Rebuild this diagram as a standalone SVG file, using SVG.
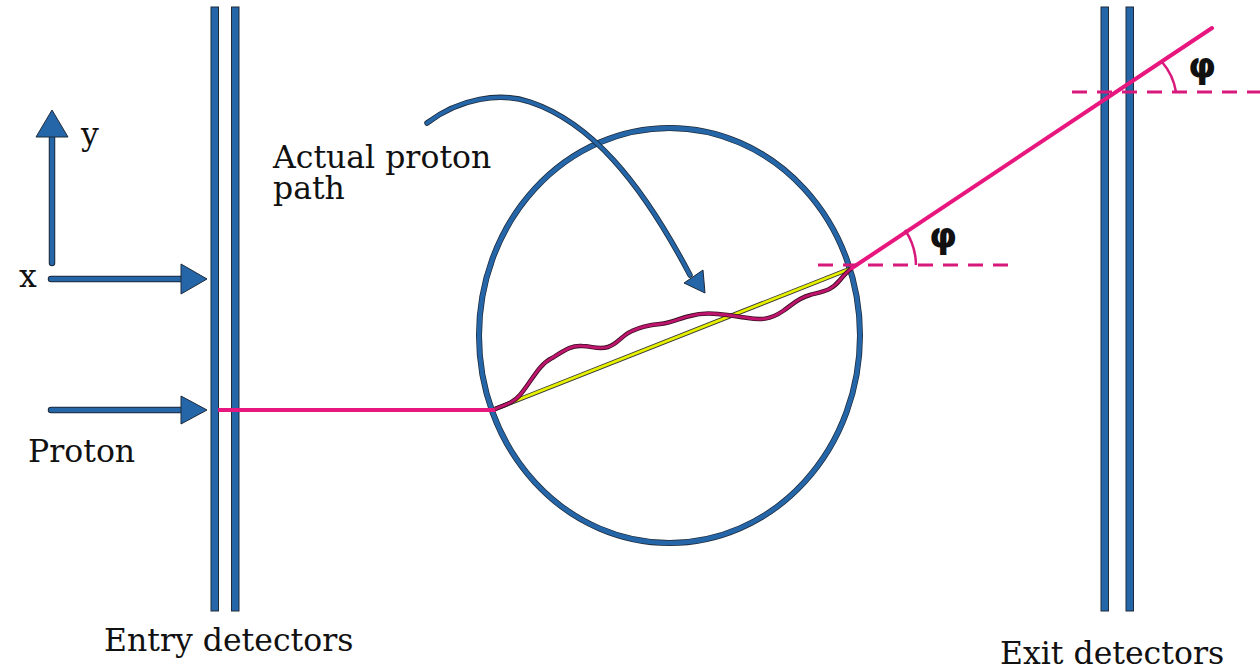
<svg xmlns="http://www.w3.org/2000/svg" width="1260" height="669" viewBox="0 0 1260 669">
<style>
.det{fill:#2566a8;stroke:#1e2a3a;stroke-width:1}
.bluearrow{fill:#2566a8;stroke:#1e2a3a;stroke-width:1}
.pink{fill:none;stroke:#e8177f;stroke-width:4}
.dash{fill:none;stroke:#d8197c;stroke-width:3;stroke-dasharray:15 10}
.lbl{font-family:"DejaVu Serif","Liberation Serif",serif;font-size:31.5px;fill:#111}
.phi{font-family:"DejaVu Sans","Liberation Sans",sans-serif;font-size:36px;font-weight:bold;fill:#111}
</style>
<rect width="1260" height="669" fill="#fff"/>
<g id="entry-detectors">
<rect class="det" x="211" y="7" width="7.5" height="604"/>
<rect class="det" x="231.5" y="7" width="7.5" height="604"/>
</g>
<g id="exit-detectors">
<rect class="det" x="1101" y="7" width="7.5" height="604"/>
<rect class="det" x="1126" y="7" width="7.5" height="604"/>
</g>
<g id="target">
<ellipse cx="669.5" cy="335.5" rx="190.5" ry="207.5" fill="none" stroke="#1e2a3a" stroke-width="6"/>
<ellipse cx="669.5" cy="335.5" rx="190.5" ry="207.5" fill="none" stroke="#2566a8" stroke-width="4.5"/>
</g>
<g id="connectors">
<line class="pink" x1="218" y1="410" x2="496" y2="410"/>
<line x1="495" y1="409" x2="852" y2="268" stroke="#333" stroke-width="4.5"/>
<line x1="495" y1="409" x2="852" y2="268" stroke="#e5f000" stroke-width="2.8"/>
<path d="M495,409 C508,404 514,402 520,395 C532,381 538,365 552,358 C565,350 572,345 582,346 C592,346 598,350 608,347 C618,344 622,335 632,331 C642,326 650,325 660,324 C672,323 680,318 690,316 C700,313 708,313 718,314 C730,315 740,317 748,318 C760,320 770,320 783,311 C792,305 798,298 810,295 C825,291 832,290 840,280 C845,274 848,271 852,268" fill="none" stroke="#3a1020" stroke-width="4.5"/>
<path d="M495,409 C508,404 514,402 520,395 C532,381 538,365 552,358 C565,350 572,345 582,346 C592,346 598,350 608,347 C618,344 622,335 632,331 C642,326 650,325 660,324 C672,323 680,318 690,316 C700,313 708,313 718,314 C730,315 740,317 748,318 C760,320 770,320 783,311 C792,305 798,298 810,295 C825,291 832,290 840,280 C845,274 848,271 852,268" fill="none" stroke="#c0156e" stroke-width="2.8"/>
<line class="pink" x1="852" y1="268" x2="1212" y2="28" stroke-linecap="round"/>
<line class="dash" x1="818" y1="265" x2="1012" y2="265"/>
<line class="dash" x1="1072" y1="92" x2="1260" y2="92"/>
<path d="M905,230 A64,64 0 0 1 916,265" fill="none" stroke="#d8197c" stroke-width="2.5"/>
<path d="M1162,62 A60,60 0 0 1 1176,92" fill="none" stroke="#d8197c" stroke-width="2.5"/>
<path d="M52,263 V135" stroke="#1e2a3a" stroke-width="6.5" stroke-linecap="round"/>
<path d="M52,263 V135" stroke="#2566a8" stroke-width="4.5" stroke-linecap="round"/>
<polygon class="bluearrow" points="52,110 68,137 36,137"/>
<path d="M51,279 H182" stroke="#1e2a3a" stroke-width="6.5" stroke-linecap="round"/>
<path d="M51,279 H182" stroke="#2566a8" stroke-width="4.5" stroke-linecap="round"/>
<polygon class="bluearrow" points="207,279 181,264 181,294"/>
<path d="M51,410 H182" stroke="#1e2a3a" stroke-width="6.5" stroke-linecap="round"/>
<path d="M51,410 H182" stroke="#2566a8" stroke-width="4.5" stroke-linecap="round"/>
<polygon class="bluearrow" points="207,410 181,396 181,424"/>
<path d="M427,123 C460,98 500,92 530,102 C590,122 640,180 690,275" fill="none" stroke="#1e2a3a" stroke-width="5.5" stroke-linecap="round"/>
<path d="M427,123 C460,98 500,92 530,102 C590,122 640,180 690,275" fill="none" stroke="#2566a8" stroke-width="3.8" stroke-linecap="round"/>
<polygon class="bluearrow" points="705,293 684,283 703,270"/>
</g>
<g id="labels">
<text class="lbl" x="81" y="145">y</text>
<text class="lbl" x="19" y="287">x</text>
<text class="lbl" x="28" y="462">Proton</text>
<text class="lbl" x="273" y="168">Actual proton<tspan x="273" y="199">path</tspan></text>
<text class="lbl" x="104" y="651">Entry detectors</text>
<text class="lbl" x="1000" y="664">Exit detectors</text>
<text class="phi" x="929" y="248">φ</text>
<text class="phi" x="1188" y="78">φ</text>
</g>
</svg>
